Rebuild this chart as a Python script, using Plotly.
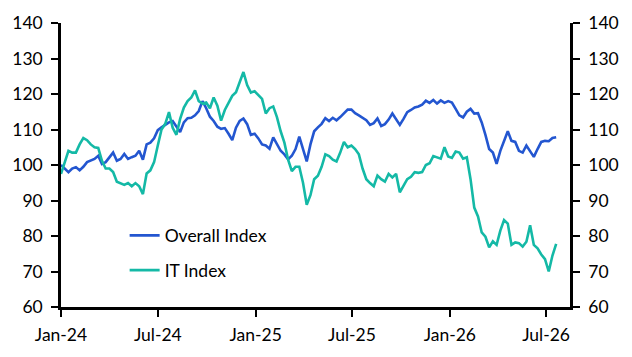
import pandas as pd
import plotly.graph_objects as go

start_date = "2024-01-01"

overall_index = [
    100.0, 99.0, 98.0, 99.0, 99.4, 98.5, 99.5, 100.8, 101.2, 101.7,
    102.6, 100.3, 100.8, 102.2, 103.5, 101.2, 101.7, 103.1, 101.7, 102.2,
    102.6, 104.0, 101.5, 105.8, 106.3, 107.5, 109.8, 110.6, 111.3, 112.0,
    112.4, 111.0, 109.3, 112.0, 113.2, 113.3, 114.0, 115.2, 118.0, 116.0,
    113.6, 112.4, 110.8, 110.2, 110.4, 108.8, 107.0, 110.5, 112.4, 113.1,
    111.5, 108.5, 108.8, 107.5, 105.8, 105.5, 104.6, 107.8, 106.0, 104.0,
    103.0, 101.6, 102.6, 104.5, 108.0, 104.5, 101.0, 105.8, 109.5, 110.6,
    111.6, 113.2, 112.4, 113.3, 112.6, 113.5, 114.5, 115.6, 115.6, 114.6,
    114.0, 113.2, 112.6, 111.3, 111.8, 113.1, 111.0, 111.5, 112.8, 114.5,
    113.0, 111.3, 113.0, 114.9, 115.5, 116.2, 116.5, 117.0, 118.1, 117.5,
    118.3, 117.3, 118.2, 117.5, 118.0, 117.6, 115.8, 114.0, 113.4, 115.0,
    115.8, 114.5, 114.6, 112.0, 108.5, 104.5, 103.5, 100.3, 104.0, 107.0,
    109.5, 106.8, 106.5, 104.0, 103.5, 105.5, 103.8, 102.3, 104.5, 106.5,
    106.8, 106.7, 107.6, 107.8,
]

it_index = [
    97.5, 100.8, 104.0, 103.5, 103.5, 105.8, 107.6, 107.0, 105.8, 105.0,
    104.8, 101.2, 99.0, 99.0, 98.0, 95.3, 94.9, 94.4, 94.9, 94.0,
    94.9, 94.0, 91.8, 97.6, 98.5, 100.8, 105.5, 110.0, 111.6, 114.9,
    110.5, 108.5, 113.0, 116.2, 118.0, 119.0, 121.0, 118.0, 117.3, 117.6,
    116.0, 119.0, 116.7, 112.5, 115.5, 117.5, 119.5, 120.5, 123.5, 126.2,
    122.5, 120.4, 120.8, 119.8, 118.6, 114.5, 116.0, 116.5, 113.5, 109.5,
    106.3, 101.5, 98.3, 99.5, 99.5, 95.0, 88.8, 91.5, 96.0, 97.0,
    99.5, 103.0, 102.5, 101.5, 101.0, 103.5, 106.5, 105.0, 105.5, 104.5,
    103.0, 99.0, 96.0, 94.9, 94.0, 97.0, 96.0, 95.3, 97.5, 96.5,
    97.5, 92.3, 94.3, 96.0, 96.7, 98.0, 97.8, 98.0, 100.0, 100.5,
    102.5, 102.2, 101.8, 105.0, 102.4, 102.0, 103.8, 103.5, 101.8, 102.2,
    96.0, 88.0, 85.5, 81.0, 79.8, 76.8, 78.5, 77.5, 81.5, 84.5,
    83.5, 77.5, 78.2, 78.0, 77.0, 78.4, 83.0, 77.5, 76.5, 74.8,
    73.5, 70.0, 74.5, 77.8,
]

dates = pd.date_range(start_date, periods=len(overall_index), freq="7D")

tick_vals = ["2024-01-01", "2024-07-01", "2025-01-01", "2025-07-01", "2026-01-01", "2026-07-01"]
tick_text = ["Jan-24", "Jul-24", "Jan-25", "Jul-25", "Jan-26", "Jul-26"]
y_ticks = [60, 70, 80, 90, 100, 110, 120, 130, 140]

BLUE = "#2356d0"
TEAL = "#14b9a6"
FONT = "Lato"
FS = 17.5

fig = go.Figure()
fig.add_trace(go.Scatter(x=dates, y=overall_index, mode="lines", name="Overall Index",
                         line=dict(color=BLUE, width=2.6), legendgroup="a"))
fig.add_trace(go.Scatter(x=dates, y=it_index, mode="lines", name="IT Index",
                         line=dict(color=TEAL, width=2.6), legendgroup="b", yaxis="y2"))

axis_common = dict(
    range=[60, 140], tickvals=y_ticks, showgrid=False, zeroline=False,
    showline=True, linecolor="black", linewidth=2.5,
    ticks="outside", ticklen=7, tickwidth=2, tickcolor="black",
    tickfont=dict(family=FONT, size=FS, color="black"),
)

fig.update_layout(
    width=632, height=357,
    margin=dict(l=57, r=62, t=15, b=50),
    paper_bgcolor="white", plot_bgcolor="white",
    font=dict(family=FONT, size=FS, color="black"),
    xaxis=dict(
        range=["2024-01-01", "2026-08-15"], tickvals=tick_vals, ticktext=tick_text,
        showgrid=False, zeroline=False, showline=True, linecolor="black", linewidth=2.5,
        ticks="outside", ticklen=7, tickwidth=2, tickcolor="black", ticklabelstandoff=3,
        tickfont=dict(family=FONT, size=FS, color="black"),
    ),
    yaxis=dict(side="left", ticklabelstandoff=5, **axis_common),
    yaxis2=dict(side="right", overlaying="y", ticklabelstandoff=5, **axis_common),
    legend=dict(x=0.125, y=0.315, xanchor="left", yanchor="top",
                bgcolor="rgba(0,0,0,0)", font=dict(family=FONT, size=FS, color="black"),
                tracegroupgap=9),
    showlegend=True,
)

fig.write_html("out.html")
